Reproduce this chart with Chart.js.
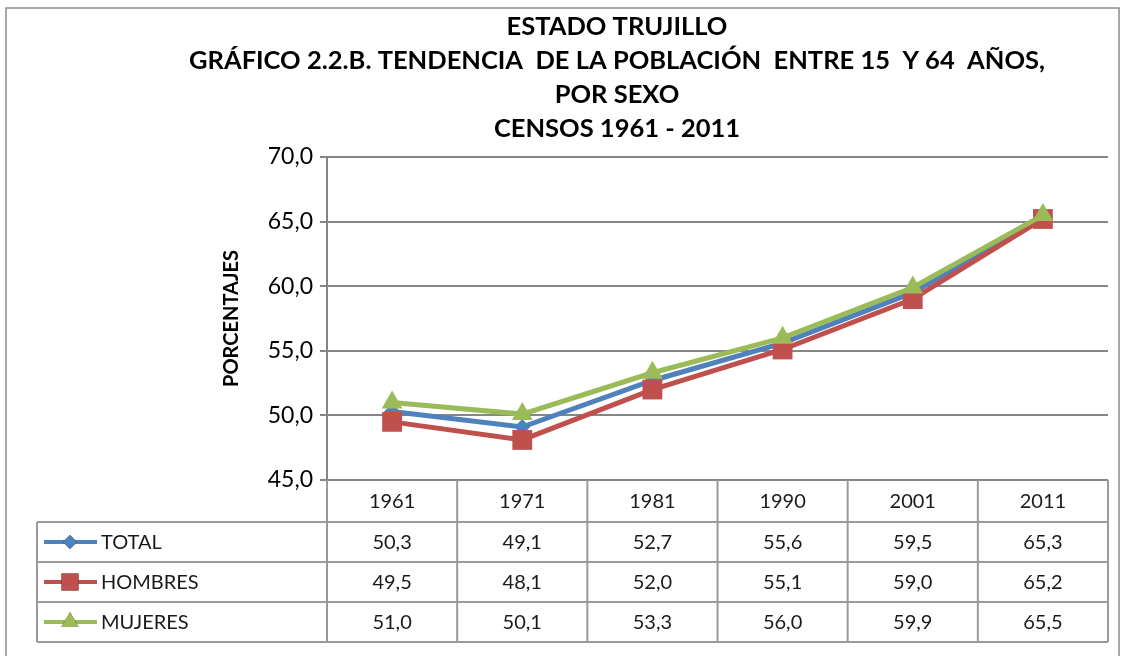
<!DOCTYPE html>
<html>
<head>
<meta charset="utf-8">
<script src="https://cdn.jsdelivr.net/npm/chart.js@4/dist/chart.umd.min.js"></script>
<style>
  html, body { margin: 0; padding: 0; background: #fff; }
  #wrap { width: 1124px; height: 656px; }
</style>
</head>
<body>
<div id="wrap"><canvas id="chart" width="1124" height="656"></canvas></div>
<script>
const years = ["1961", "1971", "1981", "1990", "2001", "2011"];
const total = [50.3, 49.1, 52.7, 55.6, 59.5, 65.3];
const hombres = [49.5, 48.1, 52.0, 55.1, 59.0, 65.2];
const mujeres = [51.0, 50.1, 53.3, 56.0, 59.9, 65.5];
const titleLines = [
	"ESTADO TRUJILLO",
	"GRÁFICO 2.2.B. TENDENCIA  DE LA POBLACIÓN  ENTRE 15  Y 64  AÑOS,",
	"POR SEXO",
	"CENSOS 1961 - 2011"
];

const fontMain = "Lato, 'Open Sans', sans-serif";
const gridGray = "#868686";

const fmt = v => v.toFixed(1).replace(".", ",");

// draws the data table under the plot and the outer frame
const tablePlugin = {
	id: "dataTable",
	afterDraw(chart) {
		const ctx = chart.ctx;
		const x = chart.scales.x;
		const area = chart.chartArea;
		const step = x.getPixelForValue(1) - x.getPixelForValue(0);
		const left = 37;
		const right = area.right;
		const top = area.bottom;
		const rows = [top, top + 42, top + 82, top + 122, top + 162];

		ctx.save();
		ctx.strokeStyle = "#9a9a9a";
		ctx.lineWidth = 2;

		ctx.beginPath();
		years.forEach((y, i) => {
			const bx = x.getPixelForValue(i) - step / 2;
			ctx.moveTo(bx, rows[0]);
			ctx.lineTo(bx, rows[4]);
		});
		ctx.moveTo(right, rows[0]);
		ctx.lineTo(right, rows[4]);
		ctx.moveTo(left, rows[1]);
		ctx.lineTo(left, rows[4]);
		for (let r = 1; r < rows.length; r++) {
			ctx.moveTo(left, rows[r]);
			ctx.lineTo(right, rows[r]);
		}
		ctx.stroke();

		ctx.fillStyle = "#1a1a1a";
		ctx.font = "20px " + fontMain;
		ctx.textAlign = "center";
		ctx.textBaseline = "middle";
		years.forEach((y, i) => {
			ctx.fillText(y, x.getPixelForValue(i), (rows[0] + rows[1]) / 2 + 1);
		});

		chart.data.datasets.forEach((ds, r) => {
			const cy = (rows[r + 1] + rows[r + 2]) / 2 + 1;
			ctx.textAlign = "center";
			ds.data.forEach((v, i) => {
				ctx.fillText(fmt(v), x.getPixelForValue(i), cy);
			});
			// legend key
			ctx.strokeStyle = ds.borderColor;
			ctx.lineWidth = 4;
			ctx.beginPath();
			ctx.moveTo(44, cy - 1);
			ctx.lineTo(97, cy - 1);
			ctx.stroke();
			Chart.helpers.drawPoint(ctx, {
				pointStyle: ds.pointStyle,
				radius: ds.legendRadius,
				rotation: 0,
				borderWidth: 0
			}, 70, cy - 1);
			ctx.fillStyle = ds.backgroundColor;
			ctx.fill();
			ctx.fillStyle = "#1a1a1a";
			ctx.textAlign = "left";
			ctx.fillText(ds.label, 101, cy);
		});

		// outer frame
		ctx.strokeStyle = "#8c8c8c";
		ctx.lineWidth = 1.5;
		ctx.strokeRect(6, 8, 1113, 660);
		ctx.restore();
	}
};

new Chart(document.getElementById("chart"), {
	type: "line",
	data: {
		labels: years,
		datasets: [{
			label: "TOTAL",
			data: total,
			borderColor: "#4F81BD",
			backgroundColor: "#4F81BD",
			pointStyle: "rectRot",
			pointRadius: 8,
			legendRadius: 7,
			order: 2
		}, {
			label: "HOMBRES",
			data: hombres,
			borderColor: "#C0504D",
			backgroundColor: "#C0504D",
			pointStyle: "rect",
			pointRadius: 14,
			legendRadius: 12,
			order: 1
		}, {
			label: "MUJERES",
			data: mujeres,
			borderColor: "#9BBB59",
			backgroundColor: "#9BBB59",
			pointStyle: "triangle",
			pointRadius: 12,
			legendRadius: 10,
			order: 0
		}]
	},
	options: {
		responsive: false,
		animation: false,
		elements: {
			line: { borderWidth: 5, tension: 0 },
			point: { borderWidth: 0, hoverRadius: 12 }
		},
		layout: {
			padding: { left: 126, right: 16, bottom: 176, top: 0 }
		},
		plugins: {
			legend: { display: false },
			tooltip: { enabled: false },
			title: {
				display: true,
				text: titleLines,
				color: "#000",
				font: { family: fontMain, size: 25.5, weight: "bold", lineHeight: 1.333 },
				padding: { top: 10, bottom: 11 }
			}
		},
		scales: {
			x: {
				display: false,
				offset: true
			},
			y: {
				min: 45,
				max: 70,
				afterFit(scale) { scale.width = 201; },
				ticks: {
					stepSize: 5,
					color: "#000",
					padding: 7,
					font: { family: fontMain, size: 23 },
					callback: v => fmt(v)
				},
				grid: {
					color: gridGray,
					lineWidth: 2,
					tickLength: 7
				},
				border: { color: gridGray, width: 2 },
				title: {
					display: true,
					text: "PORCENTAJES",
					color: "#000",
					font: { family: fontMain, size: 20, weight: "bold", lineHeight: 1.2 },
					padding: { top: 94, bottom: 0 }
				}
			}
		}
	},
	plugins: [tablePlugin]
});
</script>
</body>
</html>
